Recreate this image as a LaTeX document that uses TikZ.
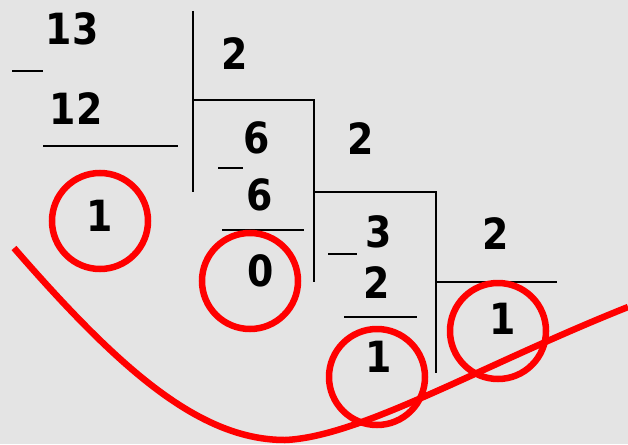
\documentclass[tikz,border=0pt]{standalone}
\usepackage{fontspec}
\newfontfamily\digitfont[FakeStretch=0.88]{DejaVu Sans}
\usepackage{xcolor}
\usetikzlibrary{positioning}
\definecolor{cPaper}{HTML}{E4E4E4}
\definecolor{cInk}{HTML}{000000}
\definecolor{cMark}{HTML}{FF0000}
\tikzset{
  digit/.style={font=\digitfont\fontsize{43}{43}\selectfont\bfseries, text=cInk, inner sep=0pt},
  rule/.style={draw=cInk, line width=2pt},
  minus/.style={draw=cInk, line width=1.6pt},
  ring/.style={draw=cMark, line width=6.5pt},
  sweep/.style={draw=cMark, line width=6.5pt},
}

\begin{document}
\begin{tikzpicture}[x=1pt, y=-1pt]
\fill[cPaper] (0,0) rectangle (628,444);
\useasboundingbox (0,0) rectangle (628,444);

% 13 : 2
\node[digit] (a13) at (72,29) {13};
\node[digit] (a12) at (76,109) {12};
\node[digit] (r0) at (100,216) {1};
\node[digit] (d0) at (235,54) {2};
\draw[minus] (12,71) -- (43,71);
\draw[rule] (43,146) -- (178,146);
\draw[rule] (193,11) -- (193,192);
\draw[rule] (193,100) -- (314,100) -- (314,282);

% 6 : 2
\node[digit] (q1) at (257,138) {6};
\node[digit] (b6) at (260,195) {6};
\node[digit] (r1) at (261,271) {0};
\node[digit] (d1) at (361,139) {2};
\draw[minus] (218,168) -- (243,168);
\draw[rule] (222,230) -- (304,230);
\draw[rule] (314,192) -- (436,192) -- (436,373);

% 3 : 2
\node[digit] (q2) at (379,232) {3};
\node[digit] (b2) at (377,283) {2};
\node[digit] (r2) at (379,357) {1};
\node[digit] (d2) at (496,234) {2};
\node[digit] (q3) at (503,319) {1};
\draw[minus] (328,254) -- (357,254);
\draw[rule] (344,317) -- (417,317);
\draw[rule] (436,282) -- (557,282);

% remainders, read from the bottom up
\draw[ring] (100,221) circle (48);
\draw[ring] (250,281) circle (48);
\draw[ring] (377,377) circle (48);
\draw[ring] (498,331) circle (48);
\draw[sweep] (14,248) .. controls (120,370) and (200,440) .. (285,440)
  .. controls (360,437) and (480,366) .. (628,307);
\end{tikzpicture}
\end{document}
